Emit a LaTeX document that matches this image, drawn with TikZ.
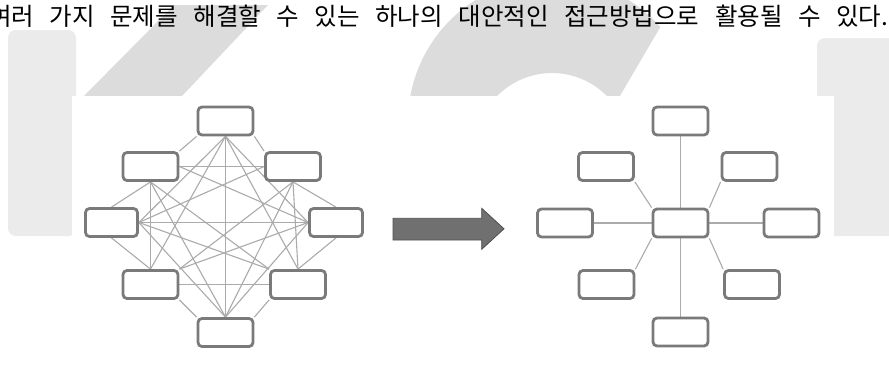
\documentclass[tikz,border=0pt]{standalone}
\usepackage{fontspec}
\newfontfamily\krfont{Noto Sans CJK KR}
\pgfdeclarelayer{wm}
\pgfdeclarelayer{edges}
\pgfsetlayers{wm,edges,main}
\definecolor{boxline}{HTML}{7A7A7A}
\definecolor{edgegray}{HTML}{ABABAB}
\definecolor{wmdark}{HTML}{DCDCDC}
\definecolor{wmlight}{HTML}{EBEBEB}
\definecolor{arrowfill}{HTML}{707070}
\definecolor{arrowline}{HTML}{4F4F4F}
\begin{document}
\begin{tikzpicture}[x=1pt,y=-1pt,
  box/.style={draw=boxline, line width=2.8pt, rounded corners=4pt, fill=white,
              minimum width=55pt, minimum height=28pt, inner sep=0pt},
  link/.style={draw=edgegray, line width=1.1pt},
  bigarrow/.style={fill=arrowfill, draw=arrowline, line width=0.8pt, line join=miter},
  caption/.style={anchor=base west, inner sep=0pt, text=black,
                  font=\krfont\fontsize{24.5pt}{28pt}\selectfont}]
\useasboundingbox (0,0) rectangle (889,365);

% ---------- watermark and white panel ----------
\begin{pgfonlayer}{wm}
  \fill[white] (0,0) rectangle (889,365);
  \fill[wmlight, rounded corners=8pt] (8,30) rectangle (76,236);
  \fill[wmdark] (174,5) -- (268,5) -- (182,96) -- (84,96) -- cycle;
  \begin{scope}
    \clip (300,-10) -- (682,-10) -- (559,200) -- (300,200) -- cycle;
    \fill[wmdark, even odd rule] (552,122) circle[radius=144] (552,150) circle[radius=77];
  \end{scope}
  \fill[wmlight, rounded corners=8pt] (817,38) rectangle (900,236);
  \fill[white] (72,96) rectangle (834,366);
\end{pgfonlayer}

% ---------- caption ----------
\node[caption] (title) at (-11,25.5)
  {\makebox[899pt][s]{여러 가지 문제를 해결할 수 있는 하나의 대안적인 접근방법으로 활용될 수 있다.}};

% ---------- left: full mesh ----------
\node[box] (t)  at (225.5,121) {};
\node[box] (ul) at (150.5,166.5) {};
\node[box] (ur) at (293,166.5) {};
\node[box, minimum width=52pt] (l) at (111.5,222.5) {};
\node[box, minimum width=53pt] (r) at (336,222.5) {};
\node[box] (ll) at (150.5,284.5) {};
\node[box] (lr) at (298,284.5) {};
\node[box] (b)  at (225.5,332.5) {};

\begin{pgfonlayer}{edges}
  \draw[link] (t.south west) -- (ul.north east);
  \draw[link] (t.south east) -- (ur.north west);
  \draw[link] (ul.east) -- (ur.west);
  \draw[link] (l.east) -- (r.west);
  \draw[link] (ll.east) -- (lr.west);
  \draw[link] (t.south) -- (b.north);
  \draw[link] (ul.south) -- (ll.north);
  \draw[link] (ur.south) -- (lr.north);
  \draw[link] (ul.south) -- (l.north);
  \draw[link] (ur.south) -- (r.north);
  \draw[link] (l.south) -- (ll.north);
  \draw[link] (r.south) -- (lr.north);
  \draw[link] (ll.south east) -- (b.north west);
  \draw[link] (lr.south west) -- (b.north east);
  \draw[link] (t.south) -- (ll.north);
  \draw[link] (t.south) -- (lr.north);
  \draw[link] (t.south) -- (l.east);
  \draw[link] (t.south) -- (r.west);
  \draw[link] (ul.east) -- (r.west);
  \draw[link] (ur.west) -- (l.east);
  \draw[link] (ul.south) -- (b.north);
  \draw[link] (ur.south) -- (b.north);
  \draw[link] (ul.south) -- (lr.north west);
  \draw[link] (ur.south) -- (ll.north east);
  \draw[link] (l.east) -- (lr.north west);
  \draw[link] (r.west) -- (ll.north east);
  \draw[link] (l.east) -- (b.north);
  \draw[link] (r.west) -- (b.north);
\end{pgfonlayer}

% ---------- block arrow ----------
\draw[bigarrow] (393,218.3) -- (481.7,218.3) -- (481.7,208.3) -- (504,228.8)
  -- (481.7,249.3) -- (481.7,240) -- (393,240) -- cycle;

% ---------- right: star ----------
\node[box] (rt)  at (680.5,121) {};
\node[box] (rul) at (606,166.5) {};
\node[box] (rur) at (749.5,166.5) {};
\node[box] (rl)  at (565,223) {};
\node[box] (rc)  at (680.5,223) {};
\node[box] (rr)  at (791.5,223) {};
\node[box] (rll) at (606.5,284.5) {};
\node[box] (rlr) at (752,284.5) {};
\node[box] (rb)  at (680.5,332) {};

\begin{pgfonlayer}{edges}
  \draw[link] (rc.north) -- (rt.south);
  \draw[link] (rc.south) -- (rb.north);
  \draw[link] (rc.west) -- (rl.east);
  \draw[link] (rc.east) -- (rr.west);
  \draw[link] (rc.north west) -- (rul.south east);
  \draw[link] (rc.north east) -- (rur.south west);
  \draw[link] (rc.south west) -- (rll.north east);
  \draw[link] (rc.south east) -- (rlr.north west);
\end{pgfonlayer}
\end{tikzpicture}
\end{document}
